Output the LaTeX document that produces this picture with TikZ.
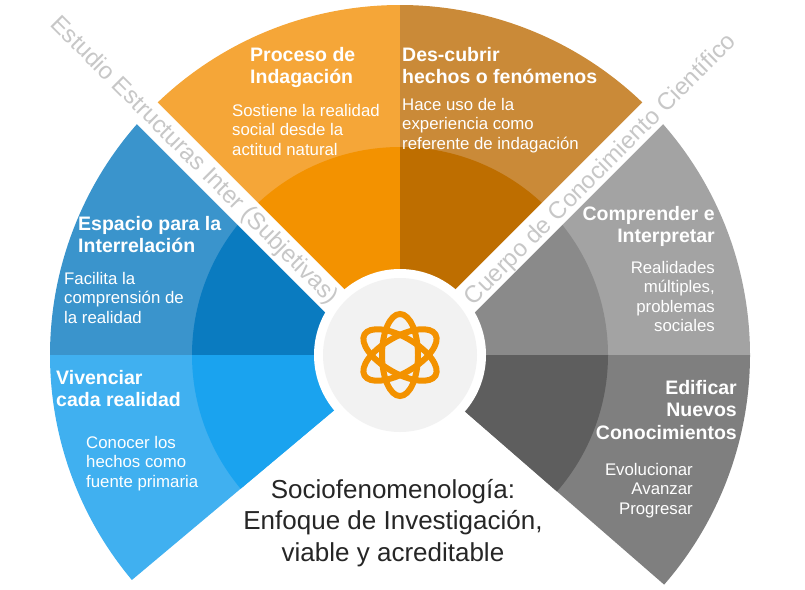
\documentclass[tikz,border=0pt]{standalone}
\usepackage{fontspec}
\setmainfont{Liberation Sans}
\begin{document}
\begin{tikzpicture}[x=1pt,y=-1pt,
  head/.style={inner sep=0,text=white,font=\bfseries\fontsize{19.5}{22.5}\selectfont},
  body/.style={inner sep=0,text=white,font=\fontsize{16.8}{19.5}\selectfont},
  band/.style={inner sep=0,text=black!22,font=\fontsize{24}{26}\selectfont}]
\path[use as bounding box,fill=white] (0,0) rectangle (805,589);
\coordinate (c) at (400,355);
% outer
\fill[color={rgb,255:red,245;green,166;blue,56}] (c) -- ++(-90:350) arc[start angle=-90,end angle=-135,radius=350] -- cycle;
\fill[color={rgb,255:red,202;green,138;blue,56}] (c) -- ++(-45:350) arc[start angle=-45,end angle=-90,radius=350] -- cycle;
\fill[color={rgb,255:red,58;green,148;blue,204}] (c) -- ++(-135:350) arc[start angle=-135,end angle=-180,radius=350] -- cycle;
\fill[color={rgb,255:red,64;green,176;blue,240}] (c) -- ++(180:350) arc[start angle=180,end angle=140,radius=350] -- cycle;
\fill[color={rgb,255:red,163;green,163;blue,163}] (c) -- ++(0:350) arc[start angle=0,end angle=-45,radius=350] -- cycle;
\fill[color={rgb,255:red,127;green,127;blue,127}] (c) -- ++(0:350) arc[start angle=0,end angle=41,radius=350] -- cycle;
% inner
\fill[color={rgb,255:red,243;green,146;blue,0}] (c) -- ++(-90:208) arc[start angle=-90,end angle=-135,radius=208] -- cycle;
\fill[color={rgb,255:red,190;green,110;blue,0}] (c) -- ++(-45:208) arc[start angle=-45,end angle=-90,radius=208] -- cycle;
\fill[color={rgb,255:red,10;green,123;blue,192}] (c) -- ++(-135:208) arc[start angle=-135,end angle=-180,radius=208] -- cycle;
\fill[color={rgb,255:red,26;green,163;blue,239}] (c) -- ++(180:208) arc[start angle=180,end angle=140,radius=208] -- cycle;
\fill[color={rgb,255:red,138;green,138;blue,138}] (c) -- ++(0:208) arc[start angle=0,end angle=-45,radius=208] -- cycle;
\fill[color={rgb,255:red,94;green,94;blue,94}] (c) -- ++(0:208) arc[start angle=0,end angle=41,radius=208] -- cycle;
% bands
\draw[white,line width=30pt] ([shift={(-5.5,5.5)}]c) -- ++(-135:380);
\draw[white,line width=30pt] ([shift={(5.5,5.5)}]c) -- ++(-45:380);
\fill[white] (c) circle[radius=86];
\fill[black!5] (c) circle[radius=77];
% atom
\foreach \a in {90,30,150}
  \draw[color={rgb,255:red,243;green,146;blue,0},line width=6pt] (c) ellipse[x radius=18,y radius=41,rotate=\a-90];
% band texts
\node[band,rotate=-45] (b1) at (194,161) {Estudio Estructuras Inter (Subjetivas)};
\node[band,rotate=45] (b2) at (601,170) {Cuerpo de Conocimiento Científico};
% orange
\node[head,anchor=north west,align=left] (h1) at (250,47) {Proceso de\\Indagación};
\node[body,anchor=north west,align=left] (t1) at (232,104) {Sostiene la realidad\\social desde la\\actitud natural};
\node[head,anchor=north west,align=left] (h2) at (402,47) {Des-cubrir\\hechos o fenómenos};
\node[body,anchor=north west,align=left] (t2) at (402,98) {Hace uso de la\\experiencia como\\referente de indagación};
% blue
\node[head,anchor=north west,align=left] (h3) at (78,216) {Espacio para la\\Interrelación};
\node[body,anchor=north west,align=left] (t3) at (64,272) {Facilita la\\comprensión de\\la realidad};
\node[head,anchor=north west,align=left] (h4) at (56,370) {Vivenciar\\cada realidad};
\node[body,anchor=north west,align=left] (t4) at (86,436) {Conocer los\\hechos como\\fuente primaria};
% gray
\node[head,anchor=north east,align=right] (h5) at (715,206) {Comprender e\\Interpretar};
\node[body,anchor=north east,align=right] (t5) at (715,261) {Realidades\\múltiples,\\problemas\\sociales};
\node[head,anchor=north east,align=right] (h6) at (737,380) {Edificar\\Nuevos\\Conocimientos};
\node[body,anchor=north east,align=right] (t6) at (693,463) {Evolucionar\\Avanzar\\Progresar};
% title
\node[inner sep=0,align=center,text=black!85,font=\fontsize{26}{31.5}\selectfont,anchor=north] (ti) at (393,479) {Sociofenomenología:\\Enfoque de Investigación,\\viable y acreditable};
\end{tikzpicture}
\end{document}
